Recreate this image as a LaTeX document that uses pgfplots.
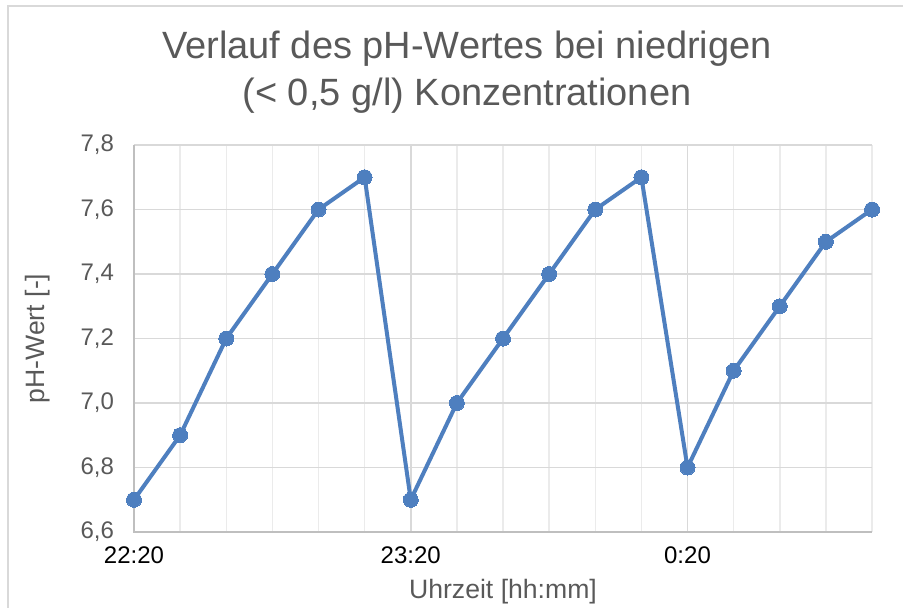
\documentclass[border=0pt]{standalone}
\usepackage{pgfplots}
\pgfplotsset{compat=1.18}
\usepackage{fontspec}
\setmainfont{Liberation Sans}
\definecolor{txtgray}{HTML}{595959}
\definecolor{gridmaj}{HTML}{D9D9D9}
\definecolor{gridmin}{HTML}{EBEBEB}
\definecolor{axgray}{HTML}{BFBFBF}
\definecolor{lineblue}{HTML}{4E7FBF}
\begin{document}
\begin{tikzpicture}[x=0.5pt,y=0.5pt]
\useasboundingbox (0,0) rectangle (903,607);
\draw[color=gridmaj,line width=0.8pt] (8,-20) -- (8,601) -- (920,601);
\node[txtgray,font=\fontsize{19}{23.5}\selectfont,align=center] at (467,535) {Verlauf des pH-Wertes bei niedrigen\\(< 0,5 g/l) Konzentrationen};
\begin{axis}[
  at={(67pt,37.5pt)}, anchor=south west,
  scale only axis, width=369pt, height=193.5pt,
  xmin=0, xmax=16, ymin=6.6, ymax=7.8,
  xtick={0,6,12}, xticklabels={22:20,23:20,0:20},
  minor xtick={1,2,3,4,5,7,8,9,10,11,13,14,15,16},
  ytick={6.6,6.8,7.0,7.2,7.4,7.6,7.8},
  /pgf/number format/.cd, use comma, fixed, fixed zerofill, precision=1, assume math mode=true,
  /pgfplots/.cd,
  yticklabel style={txtgray,font=\fontsize{12}{14}\selectfont, anchor=east, xshift=-6.5pt},
  xticklabel style={black,font=\fontsize{12}{14}\selectfont, yshift=-4pt},
  major tick length=0pt, minor tick length=0pt,
  xmajorgrids, ymajorgrids, xminorgrids,
  major grid style={color=gridmaj,line width=0.75pt},
  minor grid style={color=gridmin,line width=0.75pt},
  axis line style={draw=none},
  clip=false,
  xlabel={Uhrzeit [hh:mm]}, ylabel={pH-Wert [-]},
  xlabel style={txtgray,font=\fontsize{13.3}{16}\selectfont, at={(axis description cs:0.5,-0.155)}, anchor=center},
  ylabel style={txtgray,font=\fontsize{13.3}{16}\selectfont, at={(axis description cs:-0.130,0.5)}, anchor=center},
]
\draw[color=axgray,line width=0.75pt] (axis cs:0,7.8) -- (axis cs:0,6.6) -- (axis cs:16,6.6);
\addplot[color=lineblue, line width=2pt, mark=*, mark size=3.75pt, mark options={fill=lineblue,draw=lineblue,line width=0pt}] coordinates {
(0,6.7) (1,6.9) (2,7.2) (3,7.4) (4,7.6) (5,7.7)
(6,6.7) (7,7.0) (8,7.2) (9,7.4) (10,7.6) (11,7.7)
(12,6.8) (13,7.1) (14,7.3) (15,7.5) (16,7.6)
};
\end{axis}
\end{tikzpicture}
\end{document}
